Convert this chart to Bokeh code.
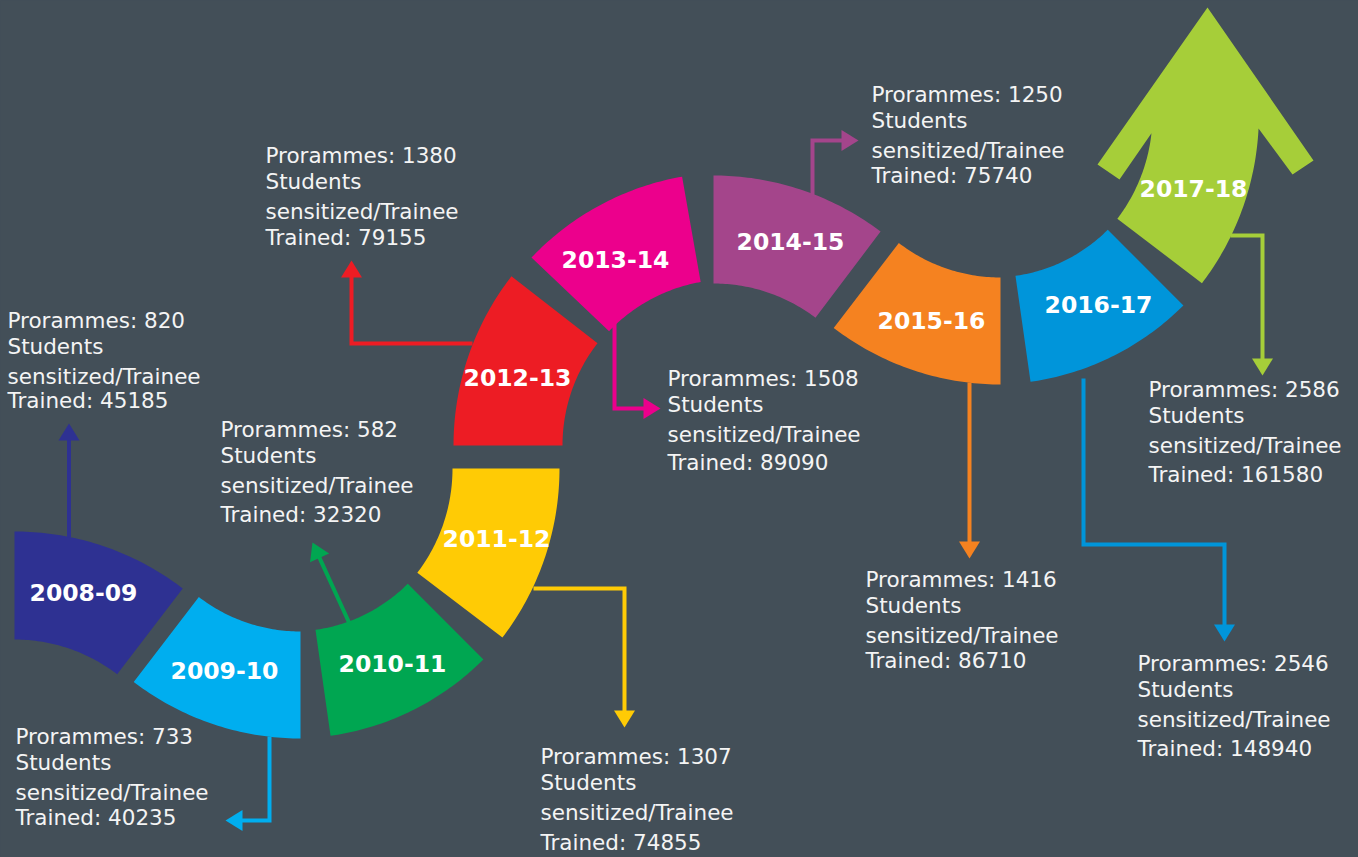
import numpy as np
from bokeh.plotting import figure
from bokeh.models import Range1d, ColumnDataSource
from bokeh.core.properties import value
from bokeh.embed import file_html
from bokeh.resources import INLINE

# ---------------- data ----------------
years = ["2008-09", "2009-10", "2010-11", "2011-12", "2012-13",
         "2013-14", "2014-15", "2015-16", "2016-17", "2017-18"]
programmes = [820, 733, 582, 1307, 1380, 1508, 1250, 1416, 2546, 2586]
trained = [45185, 40235, 32320, 74855, 79155, 89090, 75740, 86710, 148940, 161580]
colors = ["#2e3192", "#00aeef", "#00a651", "#ffcb05", "#ed1c24",
          "#ec008c", "#a4458b", "#f58220", "#0095da", "#a6ce39"]

# ---------------- layout (pixel space, y downwards) ----------------
BG = "#434f58"
W, H = 1358, 857
# segment geometry: centre x, centre y, inner r, outer r, start angle, end angle (deg, screen)
geom = [
    (14, 808, 169, 277, -90, -52.6),
    (300, 464, 167, 274, 90, 127.5),
    (292, 468, 163, 270, 45, 81.9),
    (280, 468, 172, 279, 0, 37.3),
    (729, 445, 167, 276, 180, 217.8),
    (729, 445, 166, 273, 223.5, 260),
    (713, 452, 169, 277, -90, -52.9),
    (1000, 110, 167, 274, 90, 127.5),
    (992, 114, 163, 270, 45, 81.9),
    (980, 114, 172, 279, 0, 37.3),
]
label_pos = [(83, 592), (224, 670), (392, 663), (496, 538), (517, 377),
             (615, 259), (790, 241), (931, 320), (1098, 304), (1193, 188)]
text_pos = [(7, 320), (15, 736), (220, 429), (540, 756), (265, 155),
            (667, 378), (871, 94), (865, 579), (1137, 663), (1148, 389)]
last_line_off = [80, 81, 85, 86, 82, 84, 81, 81, 85, 85]
connectors = [
    [(68.5, 537), (68.5, 423)],
    [(269, 736), (269, 820), (225, 820)],
    [(349, 623), (312, 542)],
    [(533, 588), (624, 588), (624, 727)],
    [(472, 343), (351, 343), (351, 260)],
    [(614, 322), (614, 408), (660, 408)],
    [(812, 196), (812, 140), (858, 140)],
    [(969, 382), (969, 558)],
    [(1083, 378), (1083, 544), (1224, 544), (1224, 641)],
    [(1230, 235), (1262, 235), (1262, 375)],
]


def arc(cx, cy, r, a0, a1, n=48):
    t = np.radians(np.linspace(a0, a1, n))
    return list(cx + r * np.cos(t)), list(cy + r * np.sin(t))


def sector(cx, cy, r0, r1, a0, a1):
    xo, yo = arc(cx, cy, r1, a0, a1)
    xi, yi = arc(cx, cy, r0, a1, a0)
    return xo + xi, yo + yi


p = figure(width=W, height=H, x_range=Range1d(0, W), y_range=Range1d(H, 0),
           output_backend="svg", toolbar_location=None, min_border=0,
           x_axis_location=None, y_axis_location=None,
           background_fill_color=BG, border_fill_color=BG, outline_line_color=None)
p.xgrid.visible = False
p.ygrid.visible = False

# ---------------- segments ----------------
sx, sy = [], []
for i, g in enumerate(geom):
    cx, cy, r0, r1, a0, a1 = g
    if i < len(geom) - 1:
        xs, ys = sector(cx, cy, r0, r1, a0, a1)
    else:
        # final segment becomes an arrow pointing up
        xi, yi = arc(cx, cy, r0, a1, 6.3)
        xo, yo = arc(cx, cy, 278.4, 2.9, a1)
        head_x = [1119, 1097, 1207, 1313, 1292]
        head_y = [179, 164, 7, 160, 174]
        xs = xi + head_x + xo
        ys = yi + head_y + yo
    sx.append(xs)
    sy.append(ys)
p.patches(xs="xs", ys="ys", fill_color="c", line_color=None,
          source=ColumnDataSource(dict(xs=sx, ys=sy, c=colors)))

# ---------------- connectors ----------------
lx, ly, hx, hy = [], [], [], []
L, HW = 17, 10.5
for path in connectors:
    (x1, y1), (x2, y2) = path[-2], path[-1]
    d = np.array([x2 - x1, y2 - y1], float)
    d /= np.hypot(*d)
    nrm = np.array([-d[1], d[0]])
    tip = np.array([x2, y2], float)
    base = tip - L * d
    lx.append([q[0] for q in path[:-1]] + [base[0] + d[0] * 2])
    ly.append([q[1] for q in path[:-1]] + [base[1] + d[1] * 2])
    b1 = base + HW * nrm
    b2 = base - HW * nrm
    hx.append([tip[0], b1[0], b2[0]])
    hy.append([tip[1], b1[1], b2[1]])
p.multi_line(xs="xs", ys="ys", line_color="c", line_width=4, line_join="miter",
             source=ColumnDataSource(dict(xs=lx, ys=ly, c=colors)))
p.patches(xs="xs", ys="ys", fill_color="c", line_color=None,
          source=ColumnDataSource(dict(xs=hx, ys=hy, c=colors)))

# ---------------- year labels ----------------
p.text(x=[q[0] for q in label_pos], y=[q[1] for q in label_pos], text=years,
       text_color="white", text_font=value("DejaVu Sans"), text_font_style="bold",
       text_font_size=value("23.5px"), text_align="center", text_baseline="middle")

# ---------------- info text ----------------
tx, ty, tt = [], [], []
for (x0, y0), prog, tr, last in zip(text_pos, programmes, trained, last_line_off):
    lines = [f"Prorammes: {prog}", "Students", "sensitized/Trainee", f"Trained: {tr}"]
    for off, s in zip([0, 26, 56, last], lines):
        tx.append(x0)
        ty.append(y0 + off - 0.5)
        tt.append(s)
p.text(x=tx, y=ty, text=tt, text_color="#f4f4f4", text_font=value("DejaVu Sans"),
       text_font_size=value("21.5px"), text_align="left", text_baseline="alphabetic")

html = file_html(p, INLINE)
style = f"<style>html,body{{margin:0;padding:0;background:{BG};overflow:hidden;}}</style>"
html = html.replace("</head>", style + "</head>", 1)
open("out.html", "w").write(html)
